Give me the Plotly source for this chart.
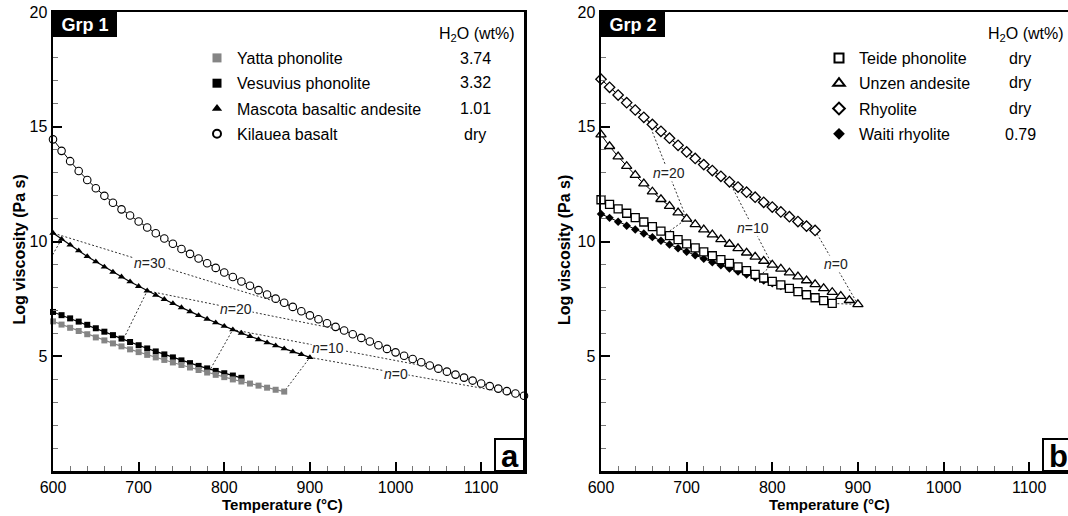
import plotly.graph_objects as go

W, H = 1068, 516
FONT = "Liberation Sans, Arial, Helvetica, sans-serif"

# ---------------- data ----------------
# Panel a (Grp 1)
temp_kilauea = list(range(600, 1151, 10))
logeta_kilauea = [14.45, 13.95, 13.50, 13.07, 12.68, 12.32, 11.99, 11.69, 11.40, 11.13,
                  10.87, 10.61, 10.36, 10.13, 9.90, 9.67, 9.46, 9.26, 9.05, 8.85,
                  8.65, 8.45, 8.26, 8.07, 7.88, 7.69, 7.51, 7.33, 7.15, 6.96,
                  6.78, 6.61, 6.44, 6.28, 6.12, 5.96, 5.80, 5.64, 5.48, 5.32,
                  5.17, 5.02, 4.88, 4.74, 4.60, 4.46, 4.33, 4.20, 4.07, 3.94,
                  3.81, 3.70, 3.59, 3.48, 3.38, 3.28]

temp_mascota = list(range(600, 901, 10))
logeta_mascota = [10.37, 10.10, 9.85, 9.60, 9.35, 9.12, 8.89, 8.67, 8.46, 8.25,
                  8.05, 7.85, 7.66, 7.48, 7.30, 7.12, 6.95, 6.78, 6.62, 6.46,
                  6.31, 6.16, 6.01, 5.87, 5.73, 5.59, 5.46, 5.33, 5.20, 5.08, 4.95]

temp_vesuvius = list(range(600, 821, 10))
logeta_vesuvius = [6.93, 6.79, 6.65, 6.51, 6.37, 6.22, 6.07, 5.92, 5.77, 5.62,
                   5.48, 5.34, 5.21, 5.08, 4.95, 4.82, 4.70, 4.58, 4.47, 4.36,
                   4.26, 4.16, 4.06]

temp_yatta = list(range(600, 871, 10))
logeta_yatta = [6.52, 6.38, 6.24, 6.10, 5.96, 5.82, 5.69, 5.56, 5.43, 5.30,
                5.18, 5.06, 4.95, 4.84, 4.73, 4.62, 4.51, 4.40, 4.29, 4.19,
                4.09, 3.99, 3.90, 3.81, 3.72, 3.63, 3.54, 3.46]

# iso-crystallinity lines, panel a (Kilauea -> Mascota -> phonolite)
iso_a_n0_t = [1150, 900, 870]
iso_a_n0_v = [3.28, 4.95, 3.46]
iso_a_n10_t = [1050, 810, 784]
iso_a_n10_v = [4.46, 6.16, 4.45]
iso_a_n20_t = [940, 710, 684]
iso_a_n20_v = [6.12, 7.85, 5.88]
iso_a_n30_t = [880, 600]
iso_a_n30_v = [7.15, 10.37]
iso_a_n30b_t = [610, 590]
iso_a_n30b_v = [10.10, 8.80]
iso_a_labels = ["<i>n</i>=30", "<i>n</i>=20", "<i>n</i>=10", "<i>n</i>=0"]
iso_a_label_t = [713, 814, 921, 1001]
iso_a_label_v = [9.08, 7.07, 5.36, 4.24]

# Panel b (Grp 2)
temp_teide = list(range(600, 871, 10))
logeta_teide = [11.82, 11.62, 11.42, 11.23, 11.04, 10.85, 10.65, 10.45, 10.26, 10.08,
                9.90, 9.72, 9.55, 9.38, 9.21, 9.05, 8.89, 8.73, 8.57, 8.41,
                8.26, 8.11, 7.96, 7.82, 7.68, 7.55, 7.42, 7.30]

temp_unzen = list(range(600, 901, 10))
logeta_unzen = [14.66, 14.15, 13.70, 13.28, 12.89, 12.52, 12.17, 11.84, 11.54, 11.26,
                10.99, 10.75, 10.52, 10.30, 10.09, 9.89, 9.70, 9.51, 9.33, 9.15,
                8.98, 8.81, 8.64, 8.47, 8.30, 8.13, 7.96, 7.79, 7.62, 7.44, 7.26]

temp_rhyolite = list(range(600, 851, 10))
logeta_rhyolite = [17.07, 16.72, 16.38, 16.05, 15.73, 15.41, 15.10, 14.80, 14.50, 14.19,
                   13.90, 13.62, 13.35, 13.09, 12.84, 12.60, 12.37, 12.15, 11.93, 11.71,
                   11.50, 11.29, 11.08, 10.87, 10.67, 10.48]

temp_waiti = list(range(600, 821, 10))
logeta_waiti = [11.20, 11.03, 10.86, 10.69, 10.52, 10.35, 10.19, 10.03, 9.87, 9.71,
                9.55, 9.40, 9.25, 9.10, 8.96, 8.82, 8.69, 8.56, 8.43, 8.30,
                8.18, 8.06, 7.94]

iso_b_n0_t = [850, 900, 870]
iso_b_n0_v = [10.48, 7.26, 7.30]
iso_b_n10_t = [750, 800, 785]
iso_b_n10_v = [12.60, 8.98, 8.50]
iso_b_n20_t = [655, 700, 678]
iso_b_n20_v = [15.25, 10.99, 10.40]
iso_b_labels = ["<i>n</i>=20", "<i>n</i>=10", "<i>n</i>=0"]
iso_b_label_t = [679, 778, 874]
iso_b_label_v = [12.97, 10.57, 9.00]

legend_a_names = ["Yatta phonolite", "Vesuvius phonolite", "Mascota basaltic andesite", "Kilauea basalt"]
legend_a_water = ["3.74", "3.32", "1.01", "dry"]
legend_b_names = ["Teide phonolite", "Unzen andesite", "Rhyolite", "Waiti rhyolite"]
legend_b_water = ["dry", "dry", "dry", "0.79"]

# ---------------- geometry ----------------
PX_L0, PX_L1 = 53, 524      # panel a plot area (px)
PX_R0 = 601                 # panel b left edge
Y_TOP, Y_BOT = 12, 471
pxper = (PX_L1 - PX_L0) / 550.0
xr_right_end = 600 + (W - PX_R0) / pxper

fig = go.Figure()

DOT = "2px,2px"
ISO_COLOR = "#333333"


def iso(t, v, xa, ya):
    fig.add_trace(go.Scatter(x=t, y=v, mode="lines", xaxis=xa, yaxis=ya,
                             line=dict(color=ISO_COLOR, width=1, dash=DOT),
                             showlegend=False, hoverinfo="skip"))


# iso lines first (below data)
for t, v in [(iso_a_n0_t, iso_a_n0_v), (iso_a_n10_t, iso_a_n10_v), (iso_a_n20_t, iso_a_n20_v),
             (iso_a_n30_t, iso_a_n30_v), (iso_a_n30b_t, iso_a_n30b_v)]:
    iso(t, v, "x", "y")
for t, v in [(iso_b_n0_t, iso_b_n0_v), (iso_b_n10_t, iso_b_n10_v), (iso_b_n20_t, iso_b_n20_v)]:
    iso(t, v, "x2", "y2")


def series(t, v, xa, ya, symbol, size, fill, edge, ew, lc, lw=1.0):
    fig.add_trace(go.Scatter(x=t, y=v, mode="lines+markers", xaxis=xa, yaxis=ya,
                             line=dict(color=lc, width=lw),
                             marker=dict(symbol=symbol, size=size, color=fill,
                                         line=dict(color=edge, width=ew)),
                             cliponaxis=False, showlegend=False))


# Panel a data
series(temp_kilauea, logeta_kilauea, "x", "y", "circle", 7.5, "white", "black", 1.1, "black", 1)
series(temp_mascota, logeta_mascota, "x", "y", "triangle-up", 6.5, "black", "black", 0, "black", 1.2)
series(temp_vesuvius, logeta_vesuvius, "x", "y", "square", 6, "black", "black", 0, "black", 1.2)
series(temp_yatta, logeta_yatta, "x", "y", "square", 6, "#858585", "#858585", 0, "#858585", 1.2)

# Panel b data
series(temp_waiti, logeta_waiti, "x2", "y2", "diamond", 6.5, "black", "black", 0, "black", 1)
series(temp_teide, logeta_teide, "x2", "y2", "square", 8, "white", "black", 1.3, "black", 1)
series(temp_unzen, logeta_unzen, "x2", "y2", "triangle-up", 9, "white", "black", 1.3, "black", 1)
series(temp_rhyolite, logeta_rhyolite, "x2", "y2", "diamond", 8, "white", "black", 1.3, "black", 1)

# legend entries (marker-only keys)
leg_a_style = [("square", 9, "#858585", "#858585", 0),
               ("square", 9, "black", "black", 0),
               ("triangle-up", 9, "black", "black", 0),
               ("circle", 8, "white", "black", 2)]
leg_b_style = [("square", 9, "white", "black", 2),
               ("triangle-up", 10, "white", "black", 2),
               ("diamond", 9, "white", "black", 2),
               ("diamond", 9, "black", "black", 0)]
for i, (name, st) in enumerate(zip(legend_a_names, leg_a_style)):
    fig.add_trace(go.Scatter(x=[None], y=[None], mode="markers", name=name, xaxis="x", yaxis="y",
                             legend="legend", legendgroup=f"a{i}",
                             marker=dict(symbol=st[0], size=st[1], color=st[2],
                                         line=dict(color=st[3], width=st[4]))))
for i, (name, st) in enumerate(zip(legend_b_names, leg_b_style)):
    fig.add_trace(go.Scatter(x=[None], y=[None], mode="markers", name=name, xaxis="x2", yaxis="y2",
                             legend="legend2", legendgroup=f"b{i}",
                             marker=dict(symbol=st[0], size=st[1], color=st[2],
                                         line=dict(color=st[3], width=st[4]))))

# ---------------- axes ----------------
x_major = [600, 700, 800, 900, 1000, 1100]
x_minor = [t for t in range(620, 1150, 20) if t % 100 != 0]
y_major = [5, 10, 15, 20]
y_minor = [v for v in range(1, 20) if v % 5 != 0]

tickfont = dict(family=FONT, size=16, color="black")


def xaxis_cfg(domain, rng):
    return dict(domain=domain, range=rng, showgrid=False, zeroline=False,
                showline=True, linecolor="black", linewidth=2.5, mirror=True,
                ticks="inside", ticklen=9, tickwidth=2, tickcolor="black",
                tickmode="array", tickvals=x_major, tickfont=tickfont,
                minor=dict(tickmode="array", tickvals=x_minor, ticks="inside", ticklen=5,
                           tickwidth=1, tickcolor="#777777"),
                automargin=False, fixedrange=True)


def yaxis_cfg(anchor, mirror):
    return dict(domain=[1 - Y_BOT / H, 1 - Y_TOP / H], range=[0, 20], anchor=anchor,
                showgrid=False, zeroline=False, showline=True, linecolor="black",
                linewidth=2.5, mirror=mirror, ticks="inside", ticklen=9, tickwidth=2,
                tickcolor="black", tickmode="array", tickvals=y_major, tickfont=tickfont,
                minor=dict(tickmode="array", tickvals=y_minor, ticks="inside", ticklen=5,
                           tickwidth=1, tickcolor="#777777"),
                automargin=False, fixedrange=True)


fig.update_layout(
    width=W, height=H, margin=dict(l=0, r=0, t=0, b=0, pad=0, autoexpand=False),
    paper_bgcolor="white", plot_bgcolor="white",
    font=dict(family=FONT, color="black"),
    xaxis=dict(xaxis_cfg([PX_L0 / W, PX_L1 / W], [600, 1150]), anchor="y"),
    yaxis=yaxis_cfg("x", True),
    xaxis2=dict(xaxis_cfg([PX_R0 / W, 1.0], [600, xr_right_end]), anchor="y2"),
    yaxis2=yaxis_cfg("x2", False),
    legend=dict(x=197 / W, y=1 - 41 / H, xanchor="left", yanchor="top",
                bgcolor="rgba(0,0,0,0)", borderwidth=0, traceorder="grouped",
                tracegroupgap=1.5, itemwidth=30,
                font=dict(family=FONT, size=16, color="black")),
    legend2=dict(x=819 / W, y=1 - 41 / H, xanchor="left", yanchor="top",
                 bgcolor="rgba(0,0,0,0)", borderwidth=0, traceorder="grouped",
                 tracegroupgap=1.5, itemwidth=30,
                 font=dict(family=FONT, size=16, color="black")),
    hovermode=False,
)

ann = []
shapes = []

# axis titles
for xc in [18.5, 564]:
    ann.append(dict(xref="paper", yref="paper", x=xc / W, y=1 - 250 / H, text="<b>Log viscosity (Pa s)</b>",
                    textangle=-90, showarrow=False, font=dict(family=FONT, size=16, color="black"),
                    xanchor="center", yanchor="middle"))
for xc in [282, 829]:
    ann.append(dict(xref="paper", yref="paper", x=xc / W, y=1 - 504 / H, text="<b>Temperature (°C)</b>",
                    showarrow=False, font=dict(family=FONT, size=15, color="black"),
                    xanchor="center", yanchor="middle"))

# group tags
for xd, yd, label in [("x domain", "y domain", "Grp 1"), ("x2 domain", "y2 domain", "Grp 2")]:
    ann.append(dict(xref=xd, yref=yd, x=0, y=1, xanchor="left", yanchor="top", showarrow=False,
                    text=f"<b>{label}</b>", font=dict(family=FONT, size=18, color="white"),
                    bgcolor="black", borderpad=2, borderwidth=1, bordercolor="black",
                    width=58, height=19, align="center"))

# panel letters
for xd, yd, letter, x0, x1 in [("x domain", "y domain", "a", -29, 0), ("x2 domain", "y2 domain", "b", -25, 6)]:
    shapes.append(dict(type="rect", xref=xd, yref=yd, xsizemode="pixel", ysizemode="pixel",
                       xanchor=1, yanchor=0, x0=x0, x1=x1, y0=0, y1=32,
                       line=dict(color="black", width=2), fillcolor="white", layer="above"))
    ann.append(dict(xref=xd, yref=yd, x=1, y=0, xanchor="center", yanchor="middle",
                    xshift=(x0 + x1) / 2, yshift=14, showarrow=False,
                    text=f"<b>{letter}</b>", font=dict(family=FONT, size=31, color="black")))

# legend headers and water contents
rows_y = [58.3, 82.8, 108.3, 134.0]
ann.append(dict(xref="paper", yref="paper", x=517 / W, y=1 - 34 / H, xanchor="right", yanchor="middle",
                showarrow=False, text="H<sub>2</sub>O (wt%)", font=dict(family=FONT, size=16, color="black")))
ann.append(dict(xref="paper", yref="paper", x=1066 / W, y=1 - 34 / H, xanchor="right", yanchor="middle",
                showarrow=False, text="H<sub>2</sub>O (wt%)", font=dict(family=FONT, size=16, color="black")))
for val, ry in zip(legend_a_water, rows_y):
    ann.append(dict(xref="paper", yref="paper", x=475 / W, y=1 - ry / H, xanchor="center", yanchor="middle",
                    showarrow=False, text=val, font=dict(family=FONT, size=16, color="black")))
for val, ry in zip(legend_b_water, rows_y):
    ann.append(dict(xref="paper", yref="paper", x=1020 / W, y=1 - ry / H, xanchor="center", yanchor="middle",
                    showarrow=False, text=val, font=dict(family=FONT, size=16, color="black")))

# iso-line labels
for txt, t, v in zip(iso_a_labels, iso_a_label_t, iso_a_label_v):
    ann.append(dict(xref="x", yref="y", x=t, y=v, text=txt, showarrow=False, bgcolor="white",
                    borderpad=0, font=dict(family=FONT, size=14, color="#222222")))
for txt, t, v in zip(iso_b_labels, iso_b_label_t, iso_b_label_v):
    ann.append(dict(xref="x2", yref="y2", x=t, y=v, text=txt, showarrow=False, bgcolor="white",
                    borderpad=0, font=dict(family=FONT, size=14, color="#222222")))

fig.update_layout(annotations=ann, shapes=shapes)

fig.write_html("out.html", config={"displayModeBar": False, "staticPlot": True})
